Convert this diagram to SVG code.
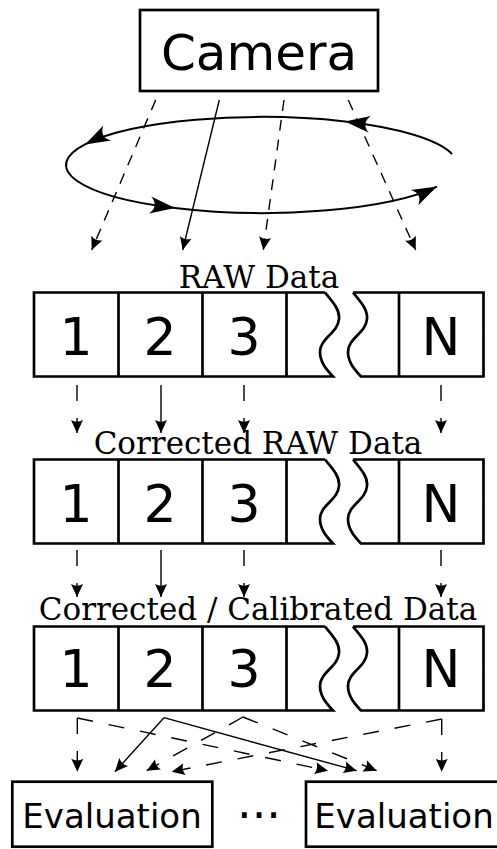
<svg xmlns="http://www.w3.org/2000/svg" width="497" height="849" viewBox="0 0 497 849">
<style>
.box{fill:#fff;stroke:#000;stroke-width:2.7}
.cell{fill:none;stroke:#000;stroke-width:2.7;stroke-linejoin:miter}
.big{font-family:"DejaVu Sans","Liberation Sans",sans-serif;fill:#000;text-anchor:middle}
.lbl{font-family:"DejaVu Serif","Liberation Serif",serif;font-size:31px;fill:#000;text-anchor:middle}
.ln{fill:none;stroke:#000;stroke-width:1.4}
.d1{stroke-dasharray:11,9}
.d2{stroke-dasharray:16,17}
.d3{stroke-dasharray:16,16}
.el{fill:none;stroke:#000;stroke-width:2}
</style>
<defs>
<marker id="a" markerUnits="userSpaceOnUse" orient="auto" markerWidth="30" markerHeight="30" refX="0" refY="0" viewBox="-15 -15 30 30" overflow="visible">
<path d="M0,0 L-13,-6 Q-9.5,0 -13,6 Z" fill="#000"/>
</marker>
<marker id="b" markerUnits="userSpaceOnUse" orient="auto" markerWidth="60" markerHeight="60" refX="0" refY="0" viewBox="-30 -30 60 60" overflow="visible">
<path d="M0,0 L-25,-8.5 Q-16,0 -25,8.5 Z" fill="#000"/>
</marker>
</defs>

<g id="camera">
<rect class="box" x="140" y="10" width="238" height="81"/>
<text class="big" x="259" y="70" font-size="50">Camera</text>
</g>

<g id="rotation">
<path class="el" d="M452,154 A196,48 0 0,0 345,121.5" marker-end="url(#b)"/>
<path class="el" d="M345,121.5 A196,48 0 0,0 85,144.4" marker-end="url(#b)"/>
<path class="el" d="M85,144.4 A196,48 0 0,0 175,208" marker-end="url(#b)"/>
<path class="el" d="M175,208 A196,48 0 0,0 437,186.6" marker-end="url(#b)"/>
</g>

<g id="raw">
<text class="lbl" x="259" y="287.5">RAW Data</text>
<path class="cell" d="M325,292.5 L34,292.5 L34,376.5 L333,376.5 C326,369 320,362 320,352 C320,338 338,333 339,319 C340,310 333,302 325,292.5"/>
<path class="cell" d="M353,292.5 L483.5,292.5 L483.5,376.5 L361,376.5 C354,369 348,362 348,352 C348,338 366,333 367,319 C368,310 361,302 353,292.5"/>
<path class="cell" d="M118.5,292.5 V376.5 M202.5,292.5 V376.5 M286.5,292.5 V376.5 M399,292.5 V376.5"/>
<text class="big" font-size="52" x="76" y="355">1</text>
<text class="big" font-size="52" x="160" y="355">2</text>
<text class="big" font-size="52" x="244" y="355">3</text>
<text class="big" font-size="52" x="441" y="355">N</text>
</g>

<g id="corrected">
<text class="lbl" x="258" y="454.3">Corrected RAW Data</text>
<path class="cell" d="M325,459.5 L34,459.5 L34,543.5 L333,543.5 C326,536 320,529 320,519 C320,505 338,500 339,486 C340,477 333,469 325,459.5"/>
<path class="cell" d="M353,459.5 L483.5,459.5 L483.5,543.5 L361,543.5 C354,536 348,529 348,519 C348,505 366,500 367,486 C368,477 361,469 353,459.5"/>
<path class="cell" d="M118.5,459.5 V543.5 M202.5,459.5 V543.5 M286.5,459.5 V543.5 M399,459.5 V543.5"/>
<text class="big" font-size="52" x="76" y="522">1</text>
<text class="big" font-size="52" x="160" y="522">2</text>
<text class="big" font-size="52" x="244" y="522">3</text>
<text class="big" font-size="52" x="441" y="522">N</text>
</g>

<g id="calibrated">
<text class="lbl" x="258" y="620">Corrected / Calibrated Data</text>
<path class="cell" d="M325,626.5 L34,626.5 L34,710.5 L333,710.5 C326,703 320,696 320,686 C320,672 338,667 339,653 C340,644 333,636 325,626.5"/>
<path class="cell" d="M353,626.5 L483.5,626.5 L483.5,710.5 L361,710.5 C354,703 348,696 348,686 C348,672 366,667 367,653 C368,644 361,636 353,626.5"/>
<path class="cell" d="M118.5,626.5 V710.5 M202.5,626.5 V710.5 M286.5,626.5 V710.5 M399,626.5 V710.5"/>
<text class="big" font-size="52" x="76" y="687">1</text>
<text class="big" font-size="52" x="160" y="687">2</text>
<text class="big" font-size="52" x="244" y="687">3</text>
<text class="big" font-size="52" x="441" y="687">N</text>
</g>

<g id="eval1">
<rect class="box" x="12.3" y="781.7" width="200" height="65"/>
<text class="big" font-size="34" x="112" y="828">Evaluation</text>
</g>
<g id="dots">
<text class="big" font-size="46" x="259" y="818.3">...</text>
</g>
<g id="eval2">
<rect class="box" x="306" y="781.7" width="200" height="65"/>
<text class="big" font-size="34" x="404" y="828">Evaluation</text>
</g>

<g id="connectors">
<path class="ln d1" d="M155.7,100 L91.7,250" marker-end="url(#a)"/>
<path class="ln" d="M219.3,100 L182.7,250" marker-end="url(#a)"/>
<path class="ln d1" d="M284,100 L263.3,250" marker-end="url(#a)"/>
<path class="ln d1" d="M348.3,100 L415.7,250" marker-end="url(#a)"/>

<path class="ln d2" d="M77,385 V433" marker-end="url(#a)"/>
<path class="ln" d="M161,385 V433" marker-end="url(#a)"/>
<path class="ln d2" d="M244,385 V433" marker-end="url(#a)"/>
<path class="ln d2" d="M441,385 V433" marker-end="url(#a)"/>

<path class="ln d2" d="M77,550 V597" marker-end="url(#a)"/>
<path class="ln" d="M161,550 V597" marker-end="url(#a)"/>
<path class="ln d2" d="M244,550 V597" marker-end="url(#a)"/>
<path class="ln d2" d="M441,550 V597" marker-end="url(#a)"/>

<path class="ln d2" d="M77.3,718 V771.7" marker-end="url(#a)"/>
<path class="ln d3" d="M77.3,718 L328,770.7" marker-end="url(#a)"/>
<path class="ln" d="M164,717.7 L115,771.7" marker-end="url(#a)"/>
<path class="ln" d="M164,717.7 L356.7,770.7" marker-end="url(#a)"/>
<path class="ln d3" d="M243,717 L146.7,770.7" marker-end="url(#a)"/>
<path class="ln d3" d="M243,717 L376.7,770.7" marker-end="url(#a)"/>
<path class="ln d2" d="M441.7,719 V771.7" marker-end="url(#a)"/>
<path class="ln d3" d="M441.7,719 L171.7,771.7" marker-end="url(#a)"/>
</g>
</svg>
